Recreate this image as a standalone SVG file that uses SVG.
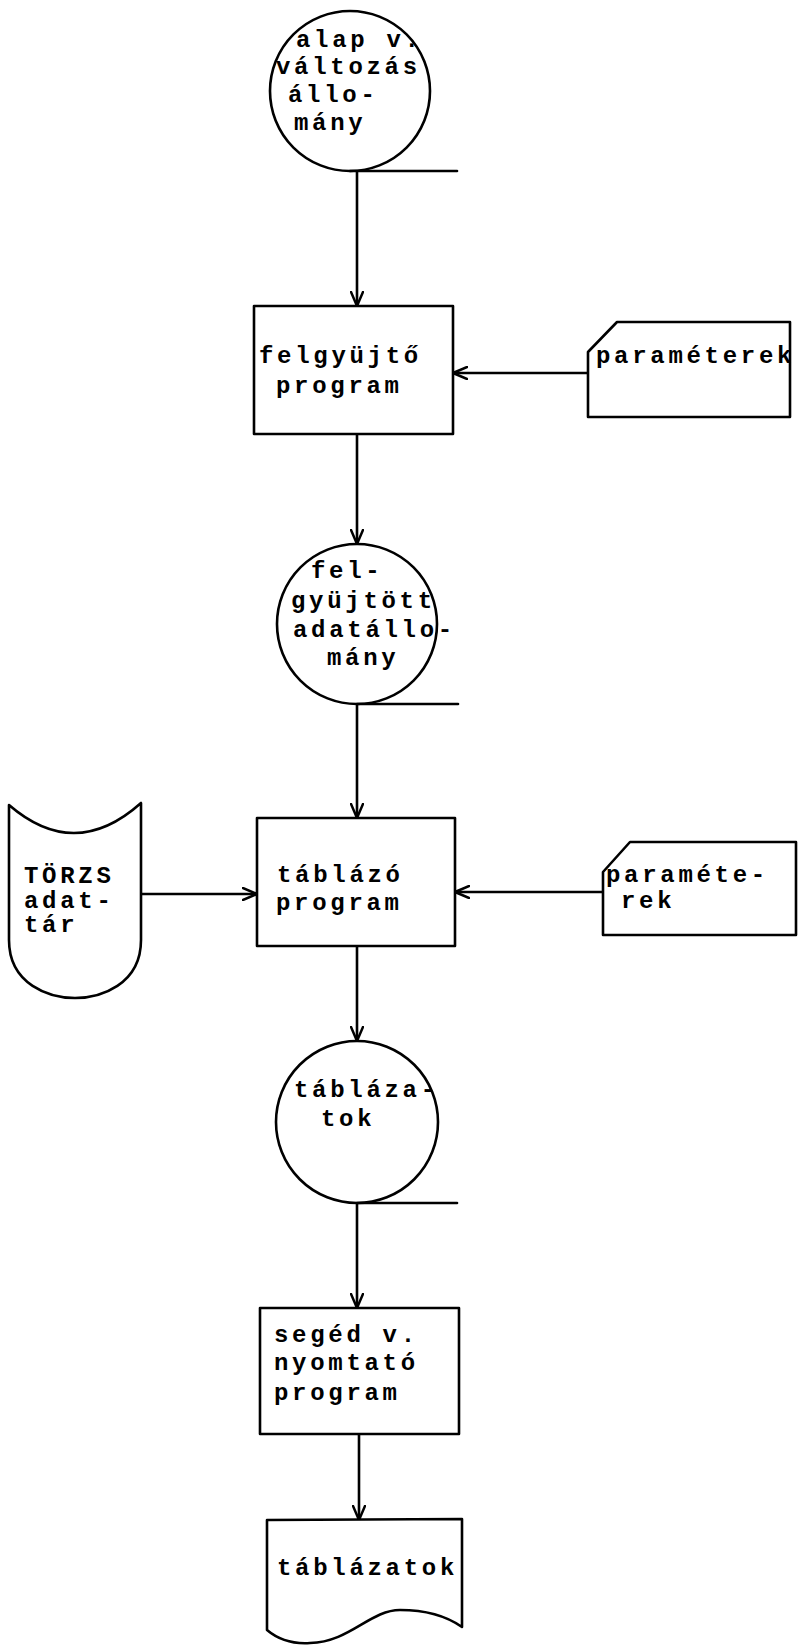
<svg xmlns="http://www.w3.org/2000/svg" width="798" height="1646" viewBox="0 0 798 1646">
<style>
.s{fill:none;stroke:#000;stroke-width:2.6;stroke-linejoin:round;stroke-linecap:round}
.n{fill:#fff;stroke:#000;stroke-width:2.6;stroke-linejoin:round}
.t{font-family:"Liberation Mono","DejaVu Sans Mono",monospace;font-size:24px;letter-spacing:3.7px;fill:#000;font-weight:bold}
</style>
<defs>
<marker id="ar" viewBox="0 0 16 14" refX="15" refY="7" markerWidth="16" markerHeight="14" markerUnits="userSpaceOnUse" orient="auto">
<path d="M1,1 L15,7 L1,13" fill="none" stroke="#000" stroke-width="2.5" stroke-linecap="round" stroke-linejoin="round"/>
</marker>
</defs>
<rect width="798" height="1646" fill="#fff"/>
<g id="connectors">
<line class="s" x1="357" y1="171" x2="357" y2="306" marker-end="url(#ar)"/>
<line class="s" x1="588" y1="373" x2="453" y2="373" marker-end="url(#ar)"/>
<line class="s" x1="357" y1="434" x2="357" y2="544" marker-end="url(#ar)"/>
<line class="s" x1="357" y1="704" x2="357" y2="818" marker-end="url(#ar)"/>
<line class="s" x1="141" y1="894" x2="257" y2="894" marker-end="url(#ar)"/>
<line class="s" x1="603" y1="892" x2="455" y2="892" marker-end="url(#ar)"/>
<line class="s" x1="357" y1="946" x2="357" y2="1041" marker-end="url(#ar)"/>
<line class="s" x1="357" y1="1203" x2="357" y2="1308" marker-end="url(#ar)"/>
<line class="s" x1="359" y1="1434" x2="359" y2="1520" marker-end="url(#ar)"/>
</g>
<g id="alap">
<circle class="n" cx="350" cy="91" r="80"/>
<line class="s" x1="350" y1="171" x2="457" y2="171"/>
<text class="t" x="296" y="47">alap v.</text>
<text class="t" x="276" y="74">változás</text>
<text class="t" x="288" y="102">állo-</text>
<text class="t" x="294" y="130">mány</text>
</g>
<g id="felgyujto">
<rect class="n" x="254" y="306" width="199" height="128"/>
<text class="t" x="259" y="363">felgyüjtő</text>
<text class="t" x="276" y="393">program</text>
</g>
<g id="parameterek1">
<path class="n" d="M588,352 L617,322 L790,322 L790,417 L588,417 Z"/>
<text class="t" x="596" y="363">paraméterek</text>
</g>
<g id="felgyujtott">
<circle class="n" cx="357" cy="624" r="80"/>
<line class="s" x1="357" y1="704" x2="458" y2="704"/>
<text class="t" x="311" y="578">fel-</text>
<text class="t" x="291" y="608">gyüjtött</text>
<text class="t" x="293" y="637">adatállo-</text>
<text class="t" x="327" y="665">mány</text>
</g>
<g id="torzs">
<path class="n" d="M9,805 Q75,862 141,803 L141,940 C141,985 100,998 75,998 C50,998 9,985 9,940 Z"/>
<text class="t" x="24" y="883">TÖRZS</text>
<text class="t" x="24" y="908">adat-</text>
<text class="t" x="24" y="932">tár</text>
</g>
<g id="tablazo">
<rect class="n" x="257" y="818" width="198" height="128"/>
<text class="t" x="277" y="882">táblázó</text>
<text class="t" x="276" y="910">program</text>
</g>
<g id="parameterek2">
<path class="n" d="M603,872 L630,842 L796,842 L796,935 L603,935 Z"/>
<text class="t" x="606" y="882">paraméte-</text>
<text class="t" x="621" y="908">rek</text>
</g>
<g id="tablazatok1">
<circle class="n" cx="357" cy="1122" r="81"/>
<line class="s" x1="357" y1="1203" x2="457" y2="1203"/>
<text class="t" x="294" y="1097">tábláza-</text>
<text class="t" x="321" y="1126">tok</text>
</g>
<g id="seged">
<rect class="n" x="260" y="1308" width="199" height="126"/>
<text class="t" x="274" y="1342">segéd v.</text>
<text class="t" x="274" y="1370">nyomtató</text>
<text class="t" x="274" y="1400">program</text>
</g>
<g id="tablazatok2">
<path class="n" d="M267,1520 L462,1519 L462,1627 C445,1615 425,1610 400,1610 C370,1610 350,1642 310,1643 C295,1644 280,1641 267,1630 Z"/>
<text class="t" x="277" y="1575">táblázatok</text>
</g>
</svg>
